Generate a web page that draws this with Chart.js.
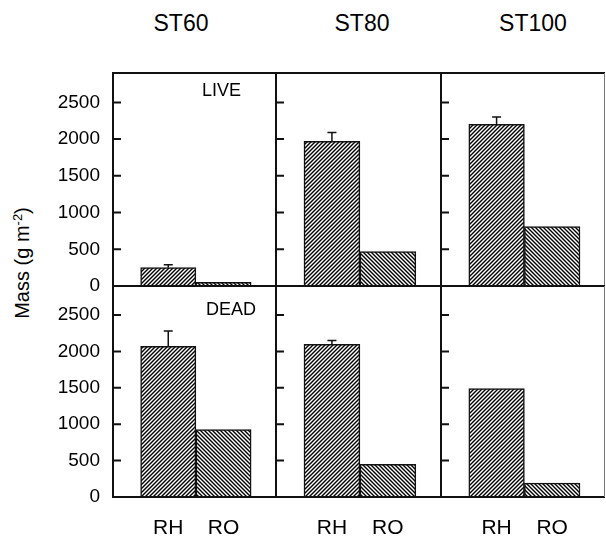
<!DOCTYPE html>
<html>
<head>
<meta charset="utf-8">
<script src="https://cdn.jsdelivr.net/npm/chart.js@4"></script>
<style>
  body { margin: 0; background: #fff; width: 606px; height: 541px; position: relative; overflow: hidden;
         font-family: "Liberation Sans", Arial, sans-serif; color: #000; }
  canvas { position: absolute; }
  .stand { position: absolute; top: 10px; width: 120px; margin-left: -60px; text-align: center; font-size: 23px; }
  #ylab { position: absolute; left: 22px; top: 263px; transform: translate(-50%, -50%) rotate(-90deg);
          font-size: 20px; white-space: nowrap; }
  #ylab sup { font-size: 13px; }
</style>
</head>
<body>
<div class="stand" style="left:181px">ST60</div>
<div class="stand" style="left:362px">ST80</div>
<div class="stand" style="left:533px">ST100</div>
<div id="ylab">Mass (g m<sup>-2</sup>)</div>

<script>
// donnees
const stands = ['ST60', 'ST80', 'ST100'];
const parts = ['RH', 'RO'];
const rows = ['LIVE', 'DEAD'];
const liveRH = [250, 1970, 2200];
const liveRO = [50, 470, 810];
const liveErrRH = [40, 120, 100];
const deadRH = [2070, 2100, 1490];
const deadRO = [925, 450, 190];
const deadErrRH = [210, 50, 0];
const yTicks = [0, 500, 1000, 1500, 2000, 2500];
const yMax = 2900;

// placement des panneaux
const colLeft = [0, 276, 441];
const colWidth = [276, 165, 165];
const rowTop = [61, 274];
const rowHeight = [237, 267];

function hatch(dir) {
  const s = 4;
  const c = document.createElement('canvas');
  c.width = c.height = s;
  const g = c.getContext('2d');
  g.fillStyle = '#fff';
  g.fillRect(0, 0, s, s);
  g.strokeStyle = '#000';
  g.lineWidth = 1.4;
  g.beginPath();
  if (dir > 0) {
    g.moveTo(0, s); g.lineTo(s, 0);
    g.moveTo(-1, 1); g.lineTo(1, -1);
    g.moveTo(s - 1, s + 1); g.lineTo(s + 1, s - 1);
  } else {
    g.moveTo(0, 0); g.lineTo(s, s);
    g.moveTo(-1, s - 1); g.lineTo(1, s + 1);
    g.moveTo(s - 1, -1); g.lineTo(s + 1, 1);
  }
  g.stroke();
  return g.createPattern(c, 'repeat');
}

const panelPlugin = {
  id: 'panel',
  afterDatasetsDraw(chart, args, opts) {
    const ctx = chart.ctx;
    const meta = chart.getDatasetMeta(0);
    const ys = chart.scales.y;
    ctx.save();
    ctx.strokeStyle = '#111';
    ctx.lineWidth = 1.5;
    opts.err.forEach((e, i) => {
      if (!e) return;
      const bar = meta.data[i];
      const y0 = ys.getPixelForValue(opts.vals[i]);
      const y1 = ys.getPixelForValue(opts.vals[i] + e);
      ctx.beginPath();
      ctx.moveTo(bar.x, y0); ctx.lineTo(bar.x, y1);
      ctx.moveTo(bar.x - 4.5, y1); ctx.lineTo(bar.x + 4.5, y1);
      ctx.stroke();
    });
    ctx.restore();
  },
  afterDraw(chart, args, opts) {
    const ctx = chart.ctx;
    const a = chart.chartArea;
    const ys = chart.scales.y;
    ctx.save();
    ctx.strokeStyle = '#111';
    ctx.lineWidth = 2;
    ctx.beginPath();
    ctx.moveTo(a.right, a.top); ctx.lineTo(a.left, a.top);
    ctx.lineTo(a.left, a.bottom); ctx.lineTo(a.right, a.bottom);
    if (!opts.last) ctx.lineTo(a.right, a.top);
    yTicks.forEach(v => {
      if (v === 0) return;
      const y = ys.getPixelForValue(v);
      ctx.moveTo(a.left, y); ctx.lineTo(a.left + 8, y);
    });
    ctx.stroke();
    if (opts.last) {
      ctx.strokeStyle = '#777';
      ctx.lineWidth = 1;
      ctx.beginPath();
      ctx.moveTo(a.right - 0.5, a.top); ctx.lineTo(a.right - 0.5, a.bottom);
      ctx.stroke();
    }
    if (opts.label) {
      ctx.fillStyle = '#000';
      ctx.font = '18px "Liberation Sans", Arial, sans-serif';
      ctx.textBaseline = 'middle';
      ctx.fillText(opts.label, opts.labelX, a.top + opts.labelDy);
    }
    ctx.restore();
  }
};

const patRH = hatch(1);
const patRO = hatch(-1);

function makePanel(r, c) {
  const cv = document.createElement('canvas');
  cv.width = colWidth[c];
  cv.height = rowHeight[r];
  cv.style.left = colLeft[c] + 'px';
  cv.style.top = rowTop[r] + 'px';
  document.body.appendChild(cv);

  const vals = r === 0 ? [liveRH[c], liveRO[c]] : [deadRH[c], deadRO[c]];
  const err = r === 0 ? [liveErrRH[c], 0] : [deadErrRH[c], 0];

  new Chart(cv.getContext('2d'), {
    type: 'bar',
    data: {
      datasets: [{
        data: vals.map((v, i) => ({ x: i + 1, y: v })),
        backgroundColor: [patRH, patRO],
        borderColor: '#111',
        borderWidth: 1.5,
        barPercentage: 1,
        categoryPercentage: 1
      }]
    },
    options: {
      responsive: false,
      animation: false,
      events: [],
      layout: { padding: { top: 12, bottom: r === 0 ? 12 : 0, left: 0, right: c === 2 ? 1 : 0 } },
      plugins: {
        legend: { display: false },
        tooltip: { enabled: false },
        panel: {
          vals: vals, err: err, last: c === 2,
          label: c === 0 ? rows[r] : null,
          labelX: r === 0 ? 202 : 206,
          labelDy: r === 0 ? 18 : 24
        }
      },
      scales: {
        x: {
          type: 'linear',
          offset: false,
          min: 0,
          max: 2.95,
          display: r === 1,
          grid: { display: false, drawTicks: false, offset: false },
          border: { display: false },
          afterBuildTicks: s => { s.ticks = parts.map((p, i) => ({ value: i + 1 })); },
          afterFit: s => {
            s.height = r === 1 ? 44 : 0;
            s.paddingLeft = 0; s.paddingRight = 0;
          },
          ticks: {
            padding: 19,
            maxRotation: 0,
            autoSkip: false,
            color: '#000',
            font: { size: 21, family: '"Liberation Sans", Arial, sans-serif' },
            callback: (v, i) => parts[i]
          }
        },
        y: {
          min: 0,
          max: yMax,
          display: c === 0,
          grid: { display: false, drawTicks: false },
          border: { display: false },
          afterBuildTicks: s => { s.ticks = yTicks.map(v => ({ value: v })); },
          afterFit: s => {
            s.width = c === 0 ? 113 : 0;
            s.paddingTop = 0; s.paddingBottom = 0;
          },
          ticks: {
            padding: 13,
            color: '#000',
            font: { size: 19, family: '"Liberation Sans", Arial, sans-serif' },
            callback: v => String(v)
          }
        }
      }
    },
    plugins: [panelPlugin]
  });
}

for (let r = 0; r < 2; r++) {
  for (let c = 0; c < 3; c++) makePanel(r, c);
}
</script>
</body>
</html>
